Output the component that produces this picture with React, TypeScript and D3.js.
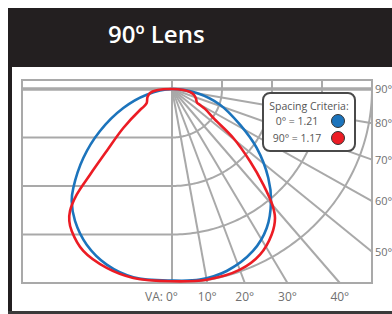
import React from "react";
import * as d3 from "d3";

// ---- data ----
const title = "90º Lens";
const radialAngles = [0, 10, 20, 30, 40, 50, 60, 70, 80, 90];
const arcRadii = [1, 2, 3, 4];
const vaTicks = [0, 10, 20, 30, 40];
const sideTicks = [90, 80, 70, 60, 50];
const legendTitle = "Spacing Criteria:";
const legendLabels = ["0° = 1.21", "90° = 1.17"];
const seriesColors = ["#1c74bc", "#ec1c24"];

// plane 0° (blue) footprint, [u, v] in grid units
const blueCurve: [number, number][] = [
  [0, 0.0], [0.494, 0.082], [0.96, 0.324], [1.36, 0.736], [1.694, 1.216],
  [1.926, 1.835], [1.98, 2.309], [1.894, 2.866], [1.62, 3.34], [1.094, 3.753],
  [0.56, 3.93], [0, 3.95], [-0.774, 3.88], [-1.306, 3.62], [-1.706, 3.21],
  [-1.94, 2.72], [-2.006, 2.309], [-1.974, 2.041], [-1.774, 1.423],
  [-1.44, 0.866], [-0.974, 0.392], [-0.506, 0.118],
];
// plane 90° (red) footprint
const redCurve: [number, number][] = [
  [0, 0.0], [0.226, 0.02], [0.36, 0.062], [0.44, 0.12], [0.48, 0.2],
  [0.5, 0.28], [0.56, 0.33], [0.66, 0.41], [0.85, 0.62], [1.226, 1.01],
  [1.56, 1.49], [1.826, 1.97], [2.006, 2.386], [2.06, 2.66], [1.994, 3.0],
  [1.76, 3.416], [1.36, 3.726], [0.694, 3.932], [0, 3.965], [-0.774, 3.897],
  [-1.306, 3.69], [-1.774, 3.34], [-2.006, 2.928], [-2.054, 2.722],
  [-2.04, 2.515], [-1.906, 2.179], [-1.64, 1.767], [-1.306, 1.278],
  [-0.974, 0.804], [-0.64, 0.433], [-0.56, 0.36], [-0.506, 0.289],
  [-0.49, 0.165], [-0.44, 0.082], [-0.306, 0.027],
];

const GRID = "#a9a9a9";
const FONT = "'Open Sans', 'Noto Sans', sans-serif";

export default function App() {
  const W = 392, H = 314;
  const x = d3.scaleLinear().domain([-3, 4]).range([22, 372]);
  const y = d3.scaleLinear().domain([0, 4]).range([89, 283]);
  const topStrip = 80;
  const rad = (d: number) => (d * Math.PI) / 180;

  const arcPath = (r: number) =>
    d3.line<number>()
      .x((a) => x(r * Math.sin(rad(a))))
      .y((a) => y(r * Math.cos(rad(a))))(d3.range(0, 90.01, 1))!;

  const radialEnd = (a: number) => {
    const s = Math.sin(rad(a)), c = Math.cos(rad(a));
    const t = Math.min(c > 1e-9 ? 4 / c : Infinity, s > 1e-9 ? 4 / s : Infinity);
    return [t * s, t * c];
  };

  const curve = d3.line<[number, number]>()
    .x((d) => x(d[0]))
    .y((d) => y(d[1]))
    .curve(d3.curveCatmullRomClosed.alpha(0.5));

  return (
    <svg width={W} height={H} style={{ position: "absolute", left: 0, top: 0 }} fontFamily={FONT}>
      <rect x={0} y={0} width={W} height={H} fill="#fff" />
      {/* frame */}
      <rect x={8} y={8} width={W - 8} height={59} fill="#231f20" />
      <rect x={8} y={8} width={4} height={H - 8} fill="#231f20" />
      <rect x={8} y={311} width={W - 8} height={3} fill="#3a3a3a" />
      <text x={108} y={43} fill="#fff" fontSize={24} fontWeight={600}>{title}</text>

      {/* grid */}
      <g stroke={GRID} strokeWidth={2} fill="none">
        <rect x={x(-3)} y={topStrip} width={x(4) - x(-3)} height={y(4) - topStrip} />
        {arcRadii.map((r) => (
          <line key={"h" + r} x1={x(-3)} x2={x(0)} y1={y(r)} y2={y(r)} />
        ))}
        <line x1={x(0)} x2={x(0)} y1={topStrip} y2={y(4)} />
        {arcRadii.map((r) => (
          <line key={"s" + r} x1={x(r)} x2={x(r)} y1={topStrip} y2={y(0)} />
        ))}
        {arcRadii.map((r) => (
          <path key={"a" + r} d={arcPath(r)} />
        ))}
        {radialAngles.map((a) => {
          const [u, v] = radialEnd(a);
          return <line key={"r" + a} x1={x(0)} y1={y(0)} x2={x(u)} y2={y(v)} />;
        })}
        <line x1={x(-3)} x2={x(4)} y1={y(0)} y2={y(0)} strokeWidth={3.5} />
      </g>

      {/* curves */}
      <path d={curve(blueCurve)!} fill="none" stroke={seriesColors[0]} strokeWidth={2.6} />
      <path d={curve(redCurve)!} fill="none" stroke={seriesColors[1]} strokeWidth={2.6} />

      {/* axis labels */}
      <g fill="#707070" fontSize={12}>
        {vaTicks.map((a) => {
          const u = 4 * Math.tan(rad(a));
          return (
            <text key={"va" + a} x={x(u) + (a === 0 ? 6 : 0)} y={301} textAnchor={a === 0 ? "end" : "middle"}>
              {a === 0 ? `VA: ${a}°` : `${a}°`}
            </text>
          );
        })}
      </g>
      <g fill="#707070" fontSize={11}>
        {sideTicks.map((a) => {
          const v = a === 90 ? 0 : 4 / Math.tan(rad(a));
          return (
            <text key={"sd" + a} x={375} y={y(v) + 4}>{`${a}°`}</text>
          );
        })}
      </g>

      {/* legend */}
      <g>
        <rect x={263} y={93} width={92} height={58} rx={7} fill="#fff" stroke="#4a4a4a" strokeWidth={2} />
        <text x={309} y={110} textAnchor="middle" fontSize={10.5} fill="#555">{legendTitle}</text>
        {legendLabels.map((l, i) => (
          <g key={l}>
            <text x={297} y={125 + i * 16.5} textAnchor="middle" fontSize={10.5} fill="#555">{l}</text>
            <circle cx={338} cy={121 + i * 17} r={6.5} fill={seriesColors[i]} stroke="#333" strokeWidth={1} />
          </g>
        ))}
      </g>
    </svg>
  );
}
